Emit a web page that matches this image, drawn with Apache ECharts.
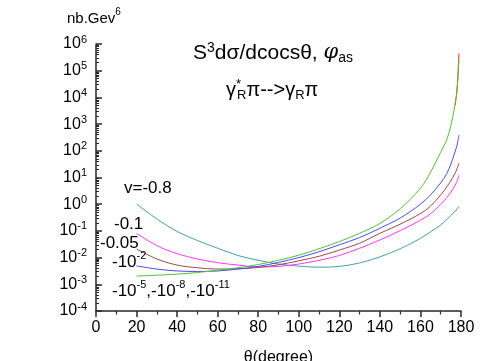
<!DOCTYPE html>
<html>
<head>
<meta charset="utf-8">
<script src="https://cdn.jsdelivr.net/npm/echarts@6/dist/echarts.min.js"></script>
<style>
  html, body { margin: 0; padding: 0; background: #fff; }
  #main { width: 499px; height: 361px; }
</style>
</head>
<body>
<div id="main"></div>
<script>
// angle in degrees
let theta = [20, 30, 40, 50, 60, 70, 80, 90, 100, 110, 120, 130, 140, 150, 160, 165, 170, 173, 175, 177, 178, 179];

// v = -0.8
let vTeal = [1.02, 0.282, 9.55e-2, 4.37e-2, 2.24e-2, 1.20e-2, 7.94e-3, 5.75e-3, 4.79e-3, 4.37e-3, 4.68e-3, 6.31e-3,
  1.07e-2, 2.14e-2, 5.25e-2, 9.33e-2, 0.166, 0.269, 0.380, 0.537, 0.661, 0.851];
// v = -0.1
let vMagenta = [8.13e-2, 2.82e-2, 1.41e-2, 8.91e-3, 6.46e-3, 5.25e-3, 4.47e-3, 4.68e-3, 5.75e-3, 7.94e-3, 1.20e-2, 2.24e-2,
  4.57e-2, 0.102, 0.251, 0.437, 1.0, 1.78, 2.82, 5.01, 7.08, 12.3];
// v = -0.05
let vBrown = [2.09e-2, 8.91e-3, 5.25e-3, 4.17e-3, 3.72e-3, 3.80e-3, 4.27e-3, 5.37e-3, 7.59e-3, 1.12e-2, 1.91e-2, 3.47e-2,
  8.13e-2, 0.178, 0.447, 0.851, 2.24, 4.47, 7.59, 14.1, 20.9, 33.9];
// v = -10^-2
let vBlue = [4.90e-3, 3.72e-3, 3.16e-3, 3.02e-3, 3.16e-3, 3.72e-3, 4.68e-3, 6.61e-3, 1.00e-2, 1.66e-2, 3.02e-2, 5.62e-2,
  0.126, 0.302, 1.0, 2.24, 6.31, 14.1, 31.6, 89.1, 158, 389];
// v = -10^-5, -10^-8, -10^-11 (lie on top of each other, red only shows at the very end)
let vGreen = [2.04e-3, 2.19e-3, 2.40e-3, 2.75e-3, 3.39e-3, 4.17e-3, 5.50e-3, 7.94e-3, 1.23e-2, 2.14e-2, 3.98e-2, 8.13e-2,
  0.191, 0.676, 3.98, 15.8, 89, 263, 891, 5010, 1.78e4, 2.6e5];
let thetaRed = [177, 178, 179];
let vRed = [5010, 1.78e4, 4.5e5];

let xTicks = [0, 20, 40, 60, 80, 100, 120, 140, 160, 180];
let xMinor = [10, 30, 50, 70, 90, 110, 130, 150, 170];

let font = 'Liberation Sans, Arial, sans-serif';
let axisColor = '#2a2a2a';

function line(name, xs, ys, color) {
  return {
    name: name,
    type: 'line',
    data: xs.map((t, i) => [t, ys[i]]),
    smooth: 0.35,
    showSymbol: false,
    symbol: 'none',
    lineStyle: {color: color, width: 1},
    z: 3
  };
}

// minor ticks of the log axis (2..9 x 10^n), placed on a hidden linear exponent axis
let minorLog = [];
for (let e = -4; e < 6; e++) {
  for (let k = 2; k <= 9; k++) {
    minorLog.push(e + Math.log10(k));
  }
}

function note(text, left, top, size) {
  let s = Math.round(size * 0.65);
  return {
    text: text,
    left: left,
    top: top,
    padding: 0,
    textStyle: {
      fontSize: size, fontFamily: font, fontWeight: 'normal', color: '#000', lineHeight: 24,
      rich: {
        sup: {fontSize: s, fontFamily: font, color: '#000', verticalAlign: 'top', lineHeight: 24},
        star: {fontSize: s, fontFamily: font, color: '#000', verticalAlign: 'top', lineHeight: 24, width: 1},
        sub: {fontSize: s, fontFamily: font, color: '#000', verticalAlign: 'bottom', lineHeight: 24},
        it: {fontSize: size, fontFamily: 'DejaVu Serif, serif', fontStyle: 'italic', color: '#000', lineHeight: 24}
      }
    }
  };
}

let chart = echarts.init(document.getElementById('main'));
chart.setOption({
  animation: false,
  backgroundColor: '#fff',
  title: [
    note('nb.Gev{sup|6}', 67, 7, 15),
    note('S{sup|3}dσ/dcocsθ, {it|φ}{sub|as}', 193, 41, 21),
    note('γ{star|*}{sub|R}π-->γ{sub|R}π', 226, 78, 20),
    note('v=-0.8', 124, 176, 17),
    note('-0.1', 114, 212, 17),
    note('-0.05', 100, 231, 17),
    note('-10{sup|-2}', 112, 250, 17),
    note('-10{sup|-5},-10{sup|-8},-10{sup|-11}', 112, 279, 17)
  ],
  grid: {left: 96, right: 38, top: 44, bottom: 50, containLabel: false, outerBoundsMode: 'none'},
  xAxis: [{
    type: 'value',
    min: 0,
    max: 180,
    interval: 20,
    name: 'θ(degree)',
    nameLocation: 'middle',
    nameGap: 39,
    nameTextStyle: {fontSize: 16, fontFamily: font, color: '#000'},
    axisLine: {onZero: false, lineStyle: {color: axisColor, width: 1.5}},
    axisTick: {length: 6, customValues: xTicks, lineStyle: {color: axisColor, width: 1.5}},
    axisLabel: {fontSize: 16, fontFamily: font, color: '#000', margin: 9, customValues: xTicks},
    splitLine: {show: false}
  }, {
    type: 'value',
    min: 0,
    max: 180,
    position: 'bottom',
    axisLine: {show: false, onZero: false},
    axisTick: {length: 3.5, customValues: xMinor, lineStyle: {color: axisColor, width: 1.2}},
    axisLabel: {show: false},
    splitLine: {show: false}
  }],
  yAxis: [{
    type: 'log',
    logBase: 10,
    min: 1e-4,
    max: 1e6,
    splitNumber: 10,
    axisLine: {onZero: false, lineStyle: {color: axisColor, width: 1.5}},
    axisTick: {inside: true, length: 6, lineStyle: {color: axisColor, width: 1.5}},
    axisLabel: {
      margin: 9,
      formatter: function (v) {
        let e = Math.round(Math.log10(v));
        return '{b|10}{s|' + e + '}';
      },
      rich: {
        b: {fontSize: 16, fontFamily: font, color: '#000', lineHeight: 20},
        s: {fontSize: 11, fontFamily: font, color: '#000', verticalAlign: 'top', lineHeight: 20}
      }
    },
    splitLine: {show: false}
  }, {
    type: 'value',
    min: -4,
    max: 6,
    position: 'left',
    axisLine: {show: false, onZero: false},
    axisTick: {show: true, inside: true, length: 3, customValues: minorLog, lineStyle: {color: axisColor, width: 1}},
    axisLabel: {show: false},
    splitLine: {show: false}
  }],
  series: [
    line('-0.8', theta, vTeal, '#3fa3a3'),
    line('-0.1', theta, vMagenta, '#ff33ff'),
    line('-0.05', theta, vBrown, '#a34848'),
    line('-1e-2', theta, vBlue, '#4a4aff'),
    line('-1e-5', thetaRed, vRed, '#ff2020'),
    line('-1e-8', theta, vGreen, '#55c033')
  ]
});
</script>
</body>
</html>
